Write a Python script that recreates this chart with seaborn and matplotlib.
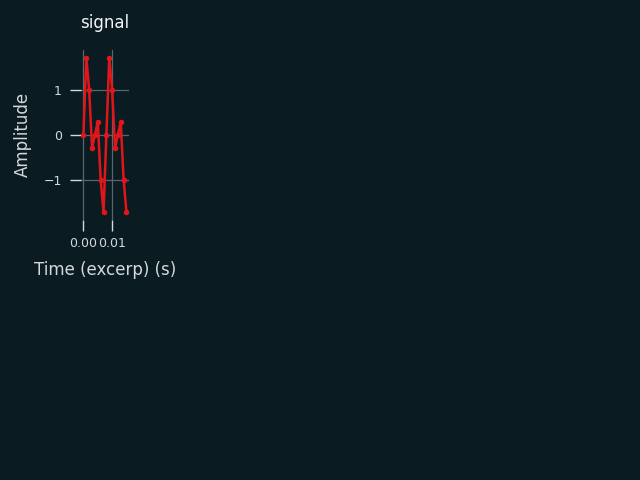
import matplotlib
matplotlib.use("Agg")
import matplotlib.pyplot as plt
import seaborn as sns
import pandas as pd

time_s = [0.000, 0.001, 0.002, 0.003, 0.004, 0.005, 0.006, 0.007,
          0.008, 0.009, 0.010, 0.011, 0.012, 0.013, 0.014, 0.015]
amplitude = [0.0, 1.71, 1.0, -0.29, 0.0, 0.29, -1.0, -1.71,
             0.0, 1.71, 1.0, -0.29, 0.0, 0.29, -1.0, -1.71]
x_ticks = [0.00, 0.01]
y_ticks = [-1, 0, 1]

BG = "#0b1b22"
TXT = "#d4d9dc"
GRID = "#59666b"
RED = "#e0161b"

sns.set_theme(style="darkgrid", rc={
    "figure.facecolor": BG,
    "axes.facecolor": BG,
    "savefig.facecolor": BG,
    "grid.color": GRID,
    "grid.linewidth": 0.9,
    "axes.edgecolor": BG,
    "axes.labelcolor": TXT,
    "text.color": TXT,
    "xtick.color": TXT,
    "ytick.color": TXT,
    "xtick.bottom": True,
    "ytick.left": True,
    "xtick.major.size": 8,
    "ytick.major.size": 8,
    "xtick.major.width": 1.0,
    "ytick.major.width": 1.0,
    "xtick.major.pad": 4,
    "ytick.major.pad": 6,
})
plt.rcParams["font.family"] = ["DejaVu Sans"]

df = pd.DataFrame({"t": time_s, "a": amplitude})

fig = plt.figure(figsize=(6.4, 4.8), dpi=100)
ax = fig.add_axes([0.127, 0.542, 0.074, 0.354])
sns.lineplot(data=df, x="t", y="a", ax=ax, color=RED, linewidth=1.8,
             marker="o", markersize=4, markeredgewidth=0)
for s in ax.spines.values():
    s.set_visible(False)
ax.set_xticks(x_ticks)
ax.set_yticks(y_ticks)
ax.set_xticklabels([f"{v:.2f}" for v in x_ticks])
ax.tick_params(axis="both", labelsize=9, colors=TXT)
ax.set_xlabel("Time (excerp) (s)", fontsize=12, labelpad=8, color=TXT)
ax.set_ylabel("Amplitude", fontsize=12, labelpad=8, color=TXT)
ax.set_title("signal", fontsize=12, pad=16, color="#f2f4f5")

fig.savefig("out.png", dpi=100)
